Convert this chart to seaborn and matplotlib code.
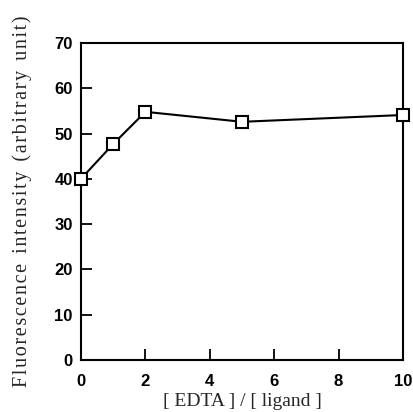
import matplotlib
matplotlib.use("Agg")
import matplotlib.pyplot as plt
import seaborn as sns
import pandas as pd

ratio = [0, 1, 2, 5, 10]
intensity = [40.0, 47.7, 54.8, 52.6, 54.1]
xticks = [0, 2, 4, 6, 8, 10]
yticks = [0, 10, 20, 30, 40, 50, 60, 70]

sns.set_theme(style="white")
plt.rcParams['font.family'] = ['Liberation Sans', 'DejaVu Sans']

df = pd.DataFrame({"ratio": ratio, "intensity": intensity})

fig = plt.figure(figsize=(4.14, 4.12), dpi=100)
ax = fig.add_axes([81/414, 1 - 360/412, (403-81)/414, (360-43)/412])

sns.lineplot(data=df, x="ratio", y="intensity", ax=ax, color="black",
             linewidth=1.5, marker="s", markersize=9, markerfacecolor="white",
             markeredgecolor="black", markeredgewidth=1.5, clip_on=False, zorder=5)

ax.set_xlim(0, 10)
ax.set_ylim(0, 70)
ax.set_xticks(xticks)
ax.set_yticks(yticks)
ax.set_xticklabels([str(t) for t in xticks], fontweight="bold", fontsize=12)
ax.set_yticklabels([str(t) for t in yticks], fontweight="bold", fontsize=12)
ax.tick_params(axis="both", direction="in", length=8, width=1.3, colors="black",
               top=False, right=False, left=True, bottom=True, pad=6)
ax.tick_params(axis="x", pad=10)
for s in ax.spines.values():
    s.set_color("black")
    s.set_linewidth(1.5)

def spaced(text):
    return "  ".join("\u200a".join(w) for w in text.split(" "))

ax.set_xlabel("[ EDTA ] / [ ligand ]", fontfamily="Liberation Serif", fontsize=14, labelpad=3)
ax.set_ylabel(spaced("Fluorescence intensity (arbitrary unit)"),
              fontfamily="Liberation Serif", fontsize=14.5, labelpad=16)

fig.savefig("out.png", dpi=100)
